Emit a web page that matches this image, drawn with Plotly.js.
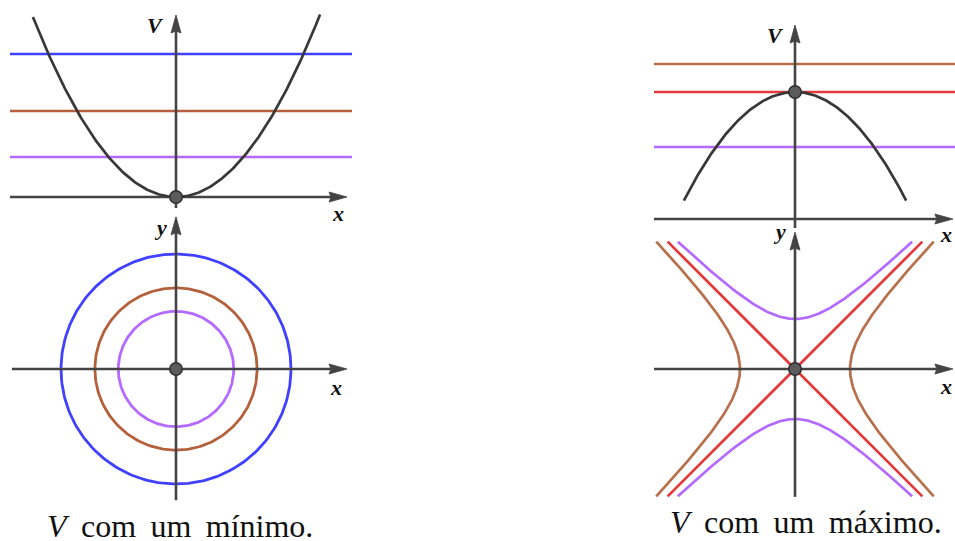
<!DOCTYPE html>
<html>
<head>
<meta charset="utf-8">
<script src="https://cdn.plot.ly/plotly-3.0.1.min.js"></script>
<style>
  html, body { margin: 0; padding: 0; background: #fff; }
  #chart { width: 955px; height: 541px; }
</style>
</head>
<body>
<div id="chart"></div>
<script>
// Energy levels for a potential with a minimum: V = x^2 (top), contours x^2 + y^2 = r^2 (bottom)
const minLevels = [7.15, 4.3, 2.0];          // blue, brown, purple
const minRadii = [2.41, 1.70, 1.21];         // blue, brown, purple
const minColors = ['#4040ff', '#b4603c', '#b46aff'];

// Energy levels for a potential with a maximum: V = Vmax - x^2 (top), saddle contours (bottom)
const maxPeak = 6.35;
const maxLevels = [7.75, 6.35, 3.6];         // brown, red, purple
const maxColors = ['#b8704c', '#e03a3a', '#b46aff'];
const saddleBrown = 1.33;                    // x^2 - y^2 = c
const saddlePurple = 1.10;                   // y^2 - x^2 = c

const axisLabels = { v: 'V', x: 'x', y: 'y' };
const GAP = '\u00a0\u2009';
const captions = ['<i>V</i>' + GAP + 'com' + GAP + 'um' + GAP + 'mínimo.',
                  '<i>V</i>' + GAP + 'com' + GAP + 'um' + GAP + 'máximo.'];

const W = 955, H = 541;
const AXIS = '#444444';
const CURVE = '#383838';

// Each panel: subplot ids, origin (px), scale (px per unit), box [left, top, right, bottom] in px
const panels = {
  tl: { xa: 'x',  ya: 'y',  ox: 176, oy: 197, sx: 47.7, sy: 20,   box: [0, 0, 365, 224] },
  bl: { xa: 'x2', ya: 'y2', ox: 176, oy: 369, sx: 47.7, sy: 47.7, box: [0, 205, 365, 512] },
  tr: { xa: 'x3', ya: 'y3', ox: 795, oy: 219, sx: 47.7, sy: 20,   box: [640, 0, 955, 236] },
  br: { xa: 'x4', ya: 'y4', ox: 795, oy: 369, sx: 47.7, sy: 47.7, box: [640, 226, 955, 512] }
};

function axisFor(p, which) {
  const [l, t, r, b] = p.box;
  if (which === 'x') {
    return { domain: [l / W, r / W], range: [(l - p.ox) / p.sx, (r - p.ox) / p.sx],
             visible: false, fixedrange: true, anchor: p.ya };
  }
  return { domain: [1 - b / H, 1 - t / H], range: [(p.oy - b) / p.sy, (p.oy - t) / p.sy],
           visible: false, fixedrange: true, anchor: p.xa };
}

const traces = [];

function line(p, xs, ys, color, width) {
  traces.push({ type: 'scatter', mode: 'lines', x: xs, y: ys, xaxis: p.xa, yaxis: p.ya,
                line: { color: color, width: width || 2.6, shape: 'linear' },
                hoverinfo: 'skip', showlegend: false });
}

// Axis line with a filled arrowhead at (x1, y1)
function arrow(p, x0, y0, x1, y1) {
  const dxp = (x1 - x0) * p.sx, dyp = (y1 - y0) * p.sy;
  const len = Math.hypot(dxp, dyp);
  const ux = dxp / len, uy = dyp / len;
  const L = 18, hw = 5, notch = 2;
  const bx = x1 - ux * L / p.sx, by = y1 - uy * L / p.sy;
  const nx = x1 - ux * (L - notch) / p.sx, ny = y1 - uy * (L - notch) / p.sy;
  line(p, [x0, nx], [y0, ny], AXIS, 2.6);
  traces.push({ type: 'scatter', mode: 'lines', xaxis: p.xa, yaxis: p.ya,
    x: [x1, bx - uy * hw / p.sx, nx, bx + uy * hw / p.sx, x1],
    y: [y1, by + ux * hw / p.sy, ny, by - ux * hw / p.sy, y1],
    fill: 'toself', fillcolor: AXIS, line: { color: AXIS, width: 0.8 },
    hoverinfo: 'skip', showlegend: false });
}

function dot(p, x, y) {
  traces.push({ type: 'scatter', mode: 'markers', x: [x], y: [y], xaxis: p.xa, yaxis: p.ya,
    marker: { size: 12.5, color: '#5c5c5c', line: { color: '#2e2e2e', width: 1.5 } },
    hoverinfo: 'skip', showlegend: false, cliponaxis: false });
}

function range(a, b, n) {
  const out = [];
  for (let i = 0; i <= n; i++) out.push(a + (b - a) * i / n);
  return out;
}

// ---- Top left: V with a minimum ----
(function () {
  const p = panels.tl;
  minLevels.forEach((v, i) => line(p, [-3.48, 3.69], [v, v], minColors[i], 2.5));
  arrow(p, -3.48, 0, 3.585, 0);
  arrow(p, 0, -0.55, 0, 9.1);
  const xs = range(-3.0, 3.02, 200);
  line(p, xs, xs.map(x => x * x), CURVE, 2.7);
  dot(p, 0, 0);
})();

// ---- Bottom left: circular level curves ----
(function () {
  const p = panels.bl;
  const ts = range(0, 2 * Math.PI, 240);
  minRadii.forEach((r, i) => line(p, ts.map(t => r * Math.cos(t)), ts.map(t => r * Math.sin(t)), minColors[i], 2.8));
  arrow(p, -3.44, 0, 3.585, 0);
  arrow(p, 0, -2.75, 0, 3.19);
  dot(p, 0, 0);
})();

// ---- Top right: V with a maximum ----
(function () {
  const p = panels.tr;
  maxLevels.forEach((v, i) => line(p, [-2.956, 3.4], [v, v], maxColors[i], 2.5));
  arrow(p, -2.956, 0, 3.31, 0);
  arrow(p, 0, -0.45, 0, 9.7);
  const xs = range(-2.33, 2.33, 200);
  line(p, xs, xs.map(x => maxPeak - x * x), CURVE, 2.7);
  dot(p, 0, maxPeak);
})();

// ---- Bottom right: saddle level curves ----
(function () {
  const p = panels.br;
  const yMax = 2.67;
  // separatrices y = +-x
  line(p, [-yMax, yMax], [-yMax, yMax], maxColors[1], 2.7);
  line(p, [-yMax, yMax], [yMax, -yMax], maxColors[1], 2.7);
  // brown branches: x = +-sqrt(c + y^2)
  const ys = range(-yMax, yMax, 200);
  [1, -1].forEach(s => line(p, ys.map(y => s * Math.sqrt(saddleBrown + y * y)), ys, maxColors[0], 2.7));
  // purple branches: y = +-sqrt(c + x^2)
  const xm = Math.sqrt(yMax * yMax - saddlePurple);
  const xs = range(-xm, xm, 200);
  [1, -1].forEach(s => line(p, xs, xs.map(x => s * Math.sqrt(saddlePurple + x * x)), maxColors[2], 2.7));
  arrow(p, -2.956, 0, 3.31, 0);
  arrow(p, 0, -2.68, 0, 2.87);
  dot(p, 0, 0);
})();

// ---- Axis labels and captions ----
const labelFont = { family: 'Liberation Serif, DejaVu Serif, serif', size: 22, color: '#111' };
function label(p, text, x, y) {
  return { text: '<b><i>' + text + '</i></b>', x: x, y: y, xref: p.xa, yref: p.ya,
           showarrow: false, font: labelFont, xanchor: 'center', yanchor: 'middle' };
}
const P = panels;
const captionFont = { family: 'Liberation Serif, serif', size: 32, color: '#111' };
const annotations = [
  label(P.tl, axisLabels.v, (155 - P.tl.ox) / P.tl.sx, (P.tl.oy - 25) / P.tl.sy),
  label(P.tl, axisLabels.x, (338 - P.tl.ox) / P.tl.sx, (P.tl.oy - 213) / P.tl.sy),
  label(P.bl, axisLabels.y, (160 - P.bl.ox) / P.bl.sx, (P.bl.oy - 227) / P.bl.sy),
  label(P.bl, axisLabels.x, (336 - P.bl.ox) / P.bl.sx, (P.bl.oy - 387) / P.bl.sy),
  label(P.tr, axisLabels.v, (775 - P.tr.ox) / P.tr.sx, (P.tr.oy - 35) / P.tr.sy),
  label(P.tr, axisLabels.x, (946 - P.tr.ox) / P.tr.sx, (P.tr.oy - 234) / P.tr.sy),
  label(P.br, axisLabels.y, (779 - P.br.ox) / P.br.sx, (P.br.oy - 232) / P.br.sy),
  label(P.br, axisLabels.x, (946 - P.br.ox) / P.br.sx, (P.br.oy - 386) / P.br.sy),
  { text: captions[0], x: 180 / W, y: 1 - 526 / H, xref: 'paper', yref: 'paper', showarrow: false,
    xanchor: 'center', yanchor: 'middle', borderpad: 4, font: captionFont },
  { text: captions[1], x: 806 / W, y: 1 - 522 / H, xref: 'paper', yref: 'paper', showarrow: false,
    xanchor: 'center', yanchor: 'middle', borderpad: 4, font: captionFont }
];

const layout = {
  width: W, height: H,
  margin: { l: 0, r: 0, t: 0, b: 0, pad: 0 },
  paper_bgcolor: '#ffffff', plot_bgcolor: 'rgba(0,0,0,0)',
  showlegend: false,
  xaxis: axisFor(P.tl, 'x'),  yaxis: axisFor(P.tl, 'y'),
  xaxis2: axisFor(P.bl, 'x'), yaxis2: axisFor(P.bl, 'y'),
  xaxis3: axisFor(P.tr, 'x'), yaxis3: axisFor(P.tr, 'y'),
  xaxis4: axisFor(P.br, 'x'), yaxis4: axisFor(P.br, 'y'),
  annotations: annotations
};

Plotly.newPlot('chart', traces, layout, { staticPlot: true, displayModeBar: false });
</script>
</body>
</html>
